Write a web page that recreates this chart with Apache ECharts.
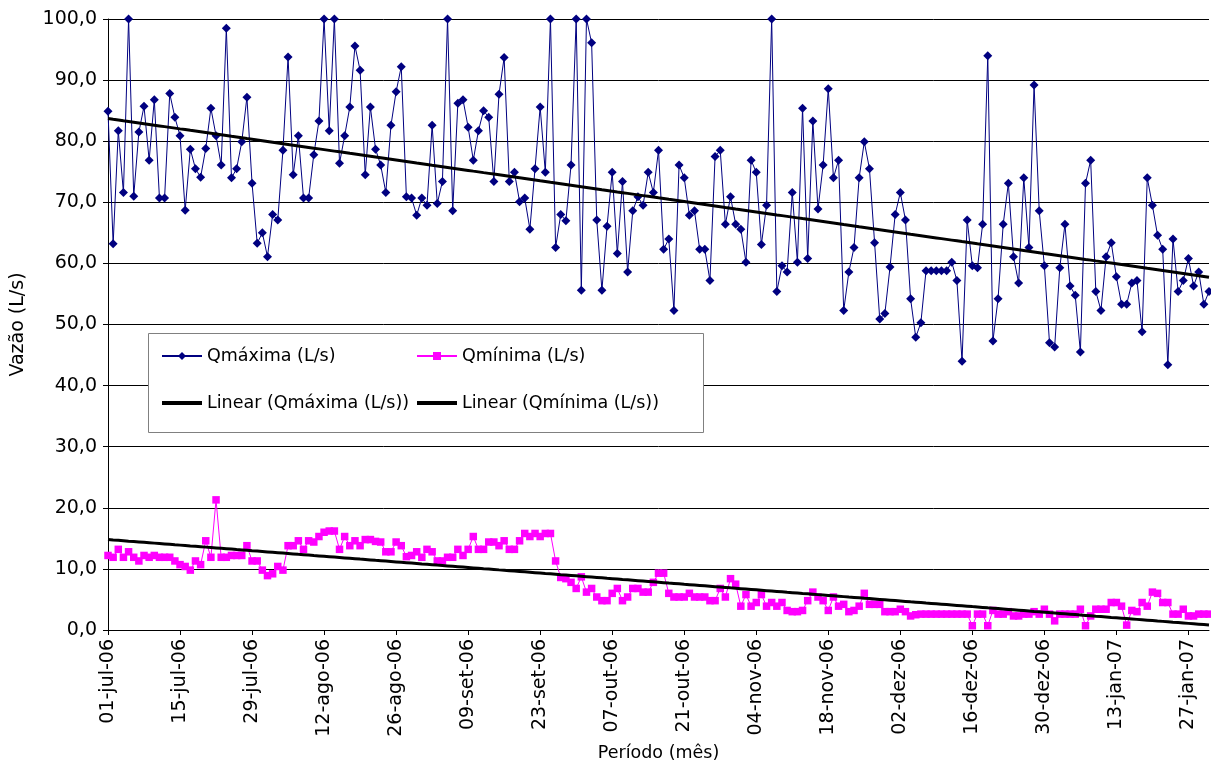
<!DOCTYPE html>
<html>
<head>
<meta charset="utf-8">
<script src="https://cdn.jsdelivr.net/npm/echarts@6/dist/echarts.min.js"></script>
<style>
  html, body { margin: 0; padding: 0; background: #fff; }
  #chart { width: 1211px; height: 765px; }
</style>
</head>
<body>
<div id="chart"></div>
<script>
// vazões diárias, 01-jul-06 .. 31-jan-07
const startDate = [2006, 6, 1]
const monthNames = ['jan', 'fev', 'mar', 'abr', 'mai', 'jun', 'jul', 'ago', 'set', 'out', 'nov', 'dez']

const qMaxima = [
  84.9, 63.2, 81.7, 71.6, 100, 71.0, 81.5, 85.7, 76.9, 86.8,
  70.7, 70.7, 87.8, 83.9, 80.9, 68.7, 78.7, 75.5, 74.1, 78.8,
  85.4, 80.9, 76.1, 98.5, 74.0, 75.5, 79.9, 87.2, 73.1, 63.3,
  65.0, 61.1, 68.0, 67.1, 78.5, 93.8, 74.5, 80.9, 70.7, 70.7,
  77.8, 83.3, 100, 81.7, 100, 76.4, 80.9, 85.6, 95.6, 91.6,
  74.5, 85.6, 78.7, 76.1, 71.6, 82.6, 88.1, 92.2, 70.9, 70.7,
  67.9, 70.7, 69.5, 82.6, 69.8, 73.4, 100, 68.6, 86.2, 86.8,
  82.3, 76.9, 81.7, 85.0, 83.9, 73.4, 87.7, 93.7, 73.4, 74.9,
  70.1, 70.7, 65.6, 75.5, 85.6, 74.9, 100, 62.6, 68.0, 67.0,
  76.1, 100, 55.6, 100, 96.1, 67.1, 55.6, 66.1, 74.9, 61.6,
  73.4, 58.6, 68.6, 70.9, 69.5, 74.9, 71.6, 78.5, 62.3, 64.0,
  52.3, 76.1, 74.0, 67.9, 68.6, 62.3, 62.3, 57.2, 77.5, 78.5,
  66.4, 70.9, 66.4, 65.6, 60.2, 76.9, 74.9, 63.1, 69.5, 100,
  55.4, 59.6, 58.6, 71.6, 60.2, 85.4, 60.8, 83.3, 68.9, 76.1,
  88.6, 74.0, 76.9, 52.3, 58.6, 62.6, 74.0, 79.9, 75.5, 63.4,
  50.9, 51.8, 59.4, 68.0, 71.6, 67.1, 54.2, 47.9, 50.3, 58.8,
  58.8, 58.8, 58.8, 58.8, 60.2, 57.2, 44.0, 67.1, 59.6, 59.3,
  66.4, 94.0, 47.3, 54.2, 66.4, 73.1, 61.1, 56.8, 74.0, 62.6,
  89.2, 68.6, 59.6, 47.0, 46.3, 59.3, 66.4, 56.3, 54.8, 45.5,
  73.1, 76.9, 55.4, 52.3, 61.1, 63.4, 57.8, 53.3, 53.3, 56.8,
  57.2, 48.8, 74.0, 69.5, 64.6, 62.3, 43.4, 64.0, 55.4, 57.2,
  60.8, 56.3, 58.6, 53.3, 55.4
]

const qMinima = [
  12.2, 11.9, 13.2, 11.9, 12.8, 11.9, 11.3, 12.2, 11.9, 12.2,
  11.9, 11.9, 11.9, 11.3, 10.7, 10.4, 9.8, 11.3, 10.7, 14.6,
  11.9, 21.3, 11.9, 11.9, 12.2, 12.2, 12.2, 13.8, 11.3, 11.3,
  9.8, 8.9, 9.2, 10.4, 9.8, 13.8, 13.8, 14.6, 13.2, 14.6,
  14.4, 15.3, 16.0, 16.2, 16.2, 13.2, 15.3, 13.8, 14.6, 13.8,
  14.8, 14.8, 14.5, 14.4, 12.8, 12.8, 14.4, 13.8, 12.0, 12.2,
  12.8, 11.9, 13.2, 12.8, 11.3, 11.3, 11.9, 11.9, 13.2, 12.2,
  13.2, 15.3, 13.2, 13.2, 14.4, 14.4, 13.8, 14.6, 13.2, 13.2,
  14.6, 15.8, 15.3, 15.8, 15.3, 15.8, 15.8, 11.3, 8.6, 8.4,
  7.8, 6.8, 8.7, 6.2, 6.8, 5.4, 4.8, 4.8, 6.0, 6.8,
  4.8, 5.4, 6.8, 6.8, 6.2, 6.2, 7.8, 9.3, 9.3, 6.0,
  5.4, 5.4, 5.4, 6.0, 5.4, 5.4, 5.4, 4.8, 4.8, 6.8,
  5.4, 8.4, 7.5, 3.9, 5.8, 3.9, 4.5, 5.8, 3.9, 4.5,
  3.9, 4.5, 3.2, 3.0, 3.0, 3.2, 4.8, 6.2, 5.4, 4.8,
  3.2, 5.4, 3.9, 4.2, 3.0, 3.2, 3.9, 6.0, 4.2, 4.2,
  4.2, 3.0, 3.0, 3.0, 3.4, 3.0, 2.3, 2.5, 2.6, 2.6,
  2.6, 2.6, 2.6, 2.6, 2.6, 2.6, 2.6, 2.6, 0.7, 2.6,
  2.6, 0.7, 3.2, 2.6, 2.6, 3.0, 2.3, 2.3, 2.6, 2.6,
  3.0, 2.6, 3.4, 2.6, 1.5, 2.6, 2.6, 2.6, 2.6, 3.4,
  0.7, 2.3, 3.4, 3.4, 3.4, 4.5, 4.5, 3.9, 0.8, 3.2,
  3.0, 4.5, 3.9, 6.2, 6.0, 4.5, 4.5, 2.6, 2.6, 3.4,
  2.3, 2.3, 2.6, 2.6, 2.6
]

const pad = (n) => (n < 10 ? '0' + n : '' + n)

// one category per day
const dias = qMaxima.map((_, i) => {
  const d = new Date(startDate[0], startDate[1], startDate[2] + i)
  return pad(d.getDate()) + '-' + monthNames[d.getMonth()] + '-' + pad(d.getFullYear() % 100)
})

// linha de tendência (mínimos quadrados), como o "Linear" do Excel
const linearTrend = (ys) => {
  const n = ys.length
  let sx = 0, sy = 0, sxx = 0, sxy = 0
  ys.forEach((y, x) => {
    sx += x; sy += y; sxx += x * x; sxy += x * y
  })
  const b = (n * sxy - sx * sy) / (n * sxx - sx * sx)
  const a = (sy - b * sx) / n
  return ys.map((_, x) => +(a + b * x).toFixed(3))
}

const fontFamily = '"DejaVu Sans", "Liberation Sans", sans-serif'

const chart = echarts.init(document.getElementById('chart'))

const legendText = { fontFamily, fontSize: 17.5, color: '#000' }
const trendLegend = { opacity: 0 }

const option = {
  animation: false,
  backgroundColor: '#fff',
  grid: { left: 108, right: 2, top: 19, bottom: 135, outerBoundsMode: 'none' },
  graphic: [
    {
      type: 'rect',
      z: 1,
      shape: { x: 148.5, y: 333.5, width: 555, height: 99 },
      style: { fill: '#fff', stroke: '#808080', lineWidth: 1 }
    }
  ],
  legend: [
    {
      orient: 'vertical',
      left: 155,
      top: 342,
      itemGap: 29,
      itemWidth: 40,
      itemHeight: 10,
      textStyle: legendText,
      data: [
        'Qmáxima (L/s)',
        { name: 'Linear (Qmáxima (L/s))', itemStyle: trendLegend, lineStyle: { width: 4 } }
      ]
    },
    {
      orient: 'vertical',
      left: 410,
      top: 342,
      itemGap: 29,
      itemWidth: 40,
      itemHeight: 10,
      textStyle: legendText,
      data: [
        'Qmínima (L/s)',
        { name: 'Linear (Qmínima (L/s))', itemStyle: trendLegend, lineStyle: { width: 4 } }
      ]
    }
  ],
  xAxis: {
    type: 'category',
    boundaryGap: false,
    data: dias,
    name: 'Período (mês)',
    nameLocation: 'middle',
    nameGap: 112,
    nameTextStyle: { fontFamily, fontSize: 17.5, color: '#000' },
    axisLine: { lineStyle: { color: '#000', width: 1 } },
    axisTick: { interval: 13, length: 5, lineStyle: { color: '#000' } },
    axisLabel: {
      interval: 13,
      rotate: 90,
      margin: 9,
      fontFamily,
      fontSize: 19,
      color: '#000'
    },
    splitLine: { show: false }
  },
  yAxis: {
    type: 'value',
    min: 0,
    max: 100,
    interval: 10,
    name: 'Vazão (L/s)',
    nameLocation: 'middle',
    nameGap: 80,
    nameTextStyle: { fontFamily, fontSize: 19, color: '#000' },
    axisLine: { show: true, lineStyle: { color: '#000', width: 1 } },
    axisTick: { show: true, length: 5, lineStyle: { color: '#000' } },
    axisLabel: {
      margin: 11,
      fontFamily,
      fontSize: 19,
      color: '#000',
      formatter: (v) => v.toFixed(1).replace('.', ',')
    },
    splitLine: { lineStyle: { color: '#000', width: 1 } }
  },
  series: [
    {
      name: 'Qmáxima (L/s)',
      type: 'line',
      data: qMaxima,
      symbol: 'diamond',
      symbolSize: 9,
      showAllSymbol: true,
      color: '#000080',
      lineStyle: { width: 1, color: '#000080' },
      itemStyle: { color: '#000080' },
      z: 3
    },
    {
      name: 'Qmínima (L/s)',
      type: 'line',
      data: qMinima,
      symbol: 'rect',
      symbolSize: 7.5,
      showAllSymbol: true,
      color: '#ff00ff',
      lineStyle: { width: 1, color: '#ff00ff' },
      itemStyle: { color: '#ff00ff' },
      z: 3
    },
    {
      name: 'Linear (Qmáxima (L/s))',
      type: 'line',
      data: linearTrend(qMaxima),
      symbol: 'none',
      color: '#000',
      lineStyle: { width: 3, color: '#000' },
      z: 5
    },
    {
      name: 'Linear (Qmínima (L/s))',
      type: 'line',
      data: linearTrend(qMinima),
      symbol: 'none',
      color: '#000',
      lineStyle: { width: 3, color: '#000' },
      z: 5
    }
  ]
}

chart.setOption(option)

window.addEventListener('resize', () => {
  chart.resize()
})
</script>
</body>
</html>
